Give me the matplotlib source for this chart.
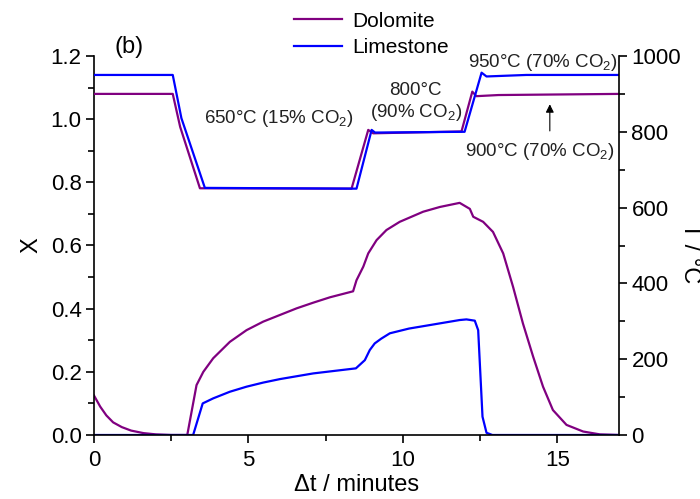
import numpy as np
import matplotlib
matplotlib.use("Agg")
import matplotlib.pyplot as plt
from matplotlib.ticker import MultipleLocator

plt.rcParams['font.family'] = ['Liberation Sans', 'DejaVu Sans']
plt.rcParams['mathtext.fontset'] = 'custom'
plt.rcParams['mathtext.rm'] = 'Liberation Sans'
plt.rcParams['mathtext.default'] = 'regular'

# === conversion X (left axis) ===
t_dol_x = [0, 0.2, 0.4, 0.62, 0.9, 1.2, 1.6, 2.0, 2.5, 3.02, 3.32, 3.54, 3.86, 4.40, 4.94,
           5.48, 6.02, 6.56, 7.10, 7.64, 8.39, 8.5, 8.72, 8.88, 9.15, 9.47, 9.90, 10.66,
           11.2, 11.84, 12.17, 12.28, 12.6, 12.92, 13.25, 13.57, 13.89, 14.22, 14.54,
           14.86, 15.30, 15.84, 16.38, 17.0]
x_dol = [0.125, 0.09, 0.062, 0.04, 0.025, 0.014, 0.006, 0.002, 0.0, 0.0, 0.158, 0.200, 0.243,
         0.295, 0.332, 0.359, 0.380, 0.401, 0.419, 0.436, 0.455, 0.49, 0.533, 0.575, 0.617,
         0.649, 0.675, 0.707, 0.722, 0.735, 0.716, 0.691, 0.675, 0.643, 0.575, 0.469, 0.353,
         0.248, 0.153, 0.079, 0.032, 0.011, 0.002, 0.0]

t_lim_x = [0, 3.21, 3.52, 3.86, 4.40, 4.94, 5.48, 6.02, 7.10, 8.48, 8.77, 8.93, 9.09, 9.3,
           9.58, 10.2, 10.87, 11.84, 12.06, 12.33, 12.44, 12.51, 12.58, 12.71, 12.9, 17.0]
x_lim = [0.0, 0.0, 0.100, 0.116, 0.137, 0.153, 0.166, 0.177, 0.195, 0.211, 0.237, 0.269, 0.29,
         0.305, 0.322, 0.337, 0.348, 0.364, 0.366, 0.362, 0.332, 0.195, 0.058, 0.007, 0.0, 0.0]

# === temperature (right axis) ===
t_dol_T = [0, 2.55, 2.79, 3.43, 8.34, 8.88, 9.04, 11.9, 12.25, 12.38, 13.1, 17.0]
T_dol = [900, 900, 813, 651, 650, 805, 796, 801, 906, 894, 897, 900]

t_lim_T = [0, 2.55, 2.83, 3.59, 8.5, 8.99, 9.1, 12.0, 12.55, 12.71, 14.0, 17.0]
T_lim = [950, 950, 836, 652, 650, 805, 798, 800, 956, 946, 950, 950]

c_dol = '#800080'
c_lim = '#0000ff'

fig = plt.figure(figsize=(7, 4.99), dpi=100)
ax = fig.add_axes([94/700, 1-435/499, (619-94)/700, (435-56)/499])
ax2 = ax.twinx()

ax.plot(t_dol_x, x_dol, color=c_dol, lw=1.6)
ax.plot(t_lim_x, x_lim, color=c_lim, lw=1.6)
l_dol, = ax2.plot(t_dol_T, T_dol, color=c_dol, lw=1.6)
l_lim, = ax2.plot(t_lim_T, T_lim, color=c_lim, lw=1.6)

ax.set_xlim(0, 17)
ax.set_ylim(0, 1.2)
ax2.set_ylim(0, 1000)

for a in (ax, ax2):
    a.spines['top'].set_visible(False)
    for s in a.spines.values():
        s.set_linewidth(1.2)
ax.spines['right'].set_visible(False)
ax2.spines['left'].set_visible(False)
ax2.spines['bottom'].set_visible(False)

ax.xaxis.set_major_locator(MultipleLocator(5))
ax.xaxis.set_minor_locator(MultipleLocator(2.5))
ax.yaxis.set_major_locator(MultipleLocator(0.2))
ax.yaxis.set_minor_locator(MultipleLocator(0.1))
ax2.yaxis.set_major_locator(MultipleLocator(200))
ax2.yaxis.set_minor_locator(MultipleLocator(100))
ax.yaxis.set_major_formatter(plt.FormatStrFormatter('%.1f'))

ax.tick_params(axis='y', which='major', direction='out', length=6, width=1.2, labelsize=16, pad=3)
ax.tick_params(axis='y', which='minor', direction='out', length=4, width=1.2)
ax.tick_params(axis='x', which='major', direction='out', length=6, width=1.2, labelsize=16, pad=5)
ax.tick_params(axis='x', which='minor', direction='out', length=4, width=1.2)
ax2.tick_params(axis='y', which='major', direction='out', length=6, width=1.2, labelsize=16, pad=3)
ax2.tick_params(axis='y', which='minor', direction='out', length=4, width=1.2)

ax.set_xlabel("Δt / minutes", fontsize=17, labelpad=2)
ax.set_ylabel("X", fontsize=17, labelpad=6)
ax2.set_ylabel("T / °C", fontsize=17, rotation=270, va='center', ha='center')
ax2.yaxis.set_label_coords(1.135, 0.48)

tk = dict(fontsize=13.5, color='#222222')
ax2.text(3.56, 836, "650°C (15% CO$_2$)", ha='left', va='center', **tk)
ax2.text(10.42, 910, "800°C", ha='center', va='center', **tk)
ax2.text(10.42, 850, "(90% CO$_2$)", ha='center', va='center', **tk)
ax2.text(16.95, 984, "950°C (70% CO$_2$)", ha='right', va='center', clip_on=False, **tk)
ax2.text(12.0, 747, "900°C (70% CO$_2$)", ha='left', va='center', **tk)
ax2.annotate("", xy=(14.76, 880), xytext=(14.76, 795),
             arrowprops=dict(arrowstyle='-|>', color='black', lw=0.8, mutation_scale=12))
ax2.text(1.13, 1024, "(b)", ha='center', va='center', fontsize=17, clip_on=False)

fig.legend([l_dol, l_lim], ["Dolomite", "Limestone"], loc='upper left',
           bbox_to_anchor=(275/700, 1.014), frameon=False, fontsize=15,
           handlelength=2.3, labelspacing=0.35, handletextpad=0.5)

fig.savefig("out.png", dpi=100)
